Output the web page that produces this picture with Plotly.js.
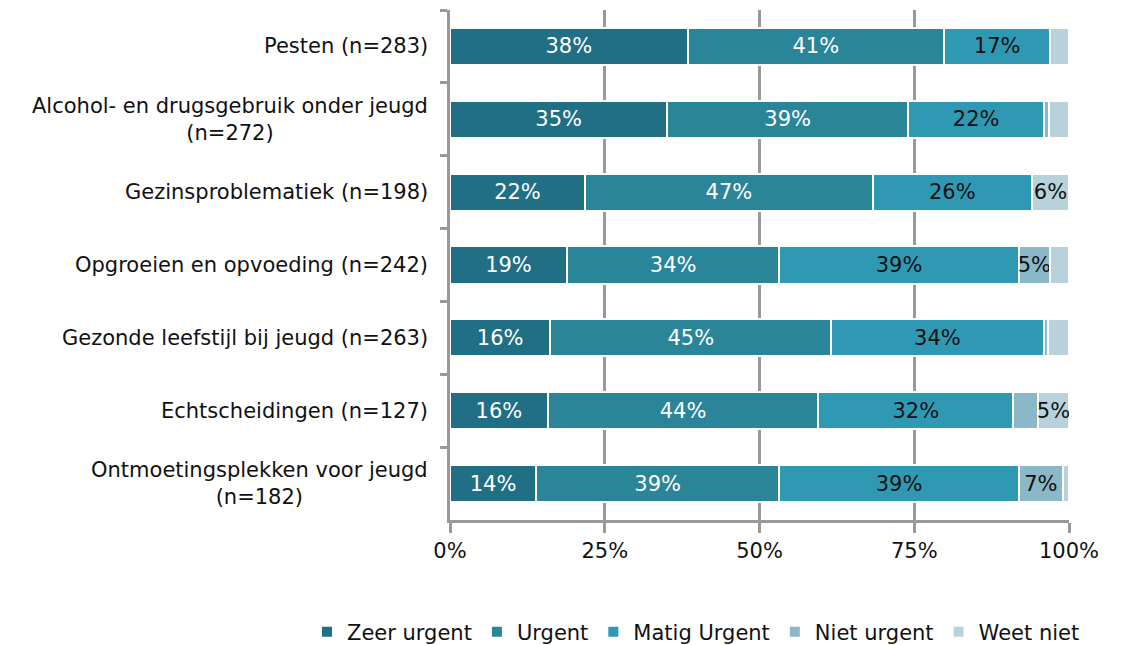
<!DOCTYPE html>
<html>
<head>
<meta charset="utf-8">
<script src="https://cdn.plot.ly/plotly-3.0.1.min.js"></script>
<style>html,body{margin:0;padding:0;background:#fff;}#chart{width:1126px;height:645px;}</style>
</head>
<body>
<div id="chart"></div>
<script>
var categories = [
  "Pesten (n=283)",
  "Alcohol- en drugsgebruik onder jeugd<br>(n=272)",
  "Gezinsproblematiek (n=198)",
  "Opgroeien en opvoeding (n=242)",
  "Gezonde leefstijl bij jeugd (n=263)",
  "Echtscheidingen (n=127)",
  "Ontmoetingsplekken voor jeugd<br>(n=182)"
];
var seriesNames = ["Zeer urgent", "Urgent", "Matig Urgent", "Niet urgent", "Weet niet"];
var zeerUrgent  = [38.4, 35.1, 21.8, 18.9, 16.2, 15.8, 13.9];
var urgent      = [41.4, 38.9, 46.5, 34.3, 45.4, 43.7, 39.3];
var matigUrgent = [17.2, 22.0, 25.7, 38.7, 34.3, 31.5, 38.7];
var nietUrgent  = [0.0, 0.8, 0.0, 5.0, 0.7, 4.0, 7.1];
var weetNiet    = [3.0, 3.2, 6.0, 3.1, 3.4, 5.0, 1.0];
var xTickVals   = [0, 25, 50, 75, 100];
var xTickText   = ["0%", "25%", "50%", "75%", "100%"];

var seriesValues = [zeerUrgent, urgent, matigUrgent, nietUrgent, weetNiet];
var colors = ["#216f84", "#2a8599", "#2f99b4", "#8bb8c8", "#b8d1db"];
var textColors = ["#ffffff", "#ffffff", "#111111", "#111111", "#111111"];
var FONT = "DejaVu Sans, Verdana, sans-serif";
var FS = 21;

var traces = seriesValues.map(function (vals, i) {
  return {
    type: "bar",
    orientation: "h",
    name: seriesNames[i],
    y: categories,
    x: vals,
    text: vals.map(function (v) { return v >= 4.5 ? Math.round(v) + "%" : ""; }),
    textposition: "inside",
    insidetextanchor: "middle",
    textangle: 0,
    constraintext: "none",
    insidetextfont: { family: FONT, size: FS, color: textColors[i] },
    marker: { color: colors[i], line: { color: "#ffffff", width: 2 } },
    hoverinfo: "name+x"
  };
});

var annotations = categories.map(function (c) {
  return {
    xref: "paper", yref: "y", x: 0, y: c,
    xshift: -20, xanchor: "right", yanchor: "middle",
    align: "center", showarrow: false,
    text: c,
    font: { family: FONT, size: FS, color: "#111111" }
  };
});

var layout = {
  width: 1126, height: 645,
  margin: { l: 450, r: 57, t: 10, b: 125, autoexpand: false },
  paper_bgcolor: "#ffffff", plot_bgcolor: "#ffffff",
  barmode: "stack",
  bargap: 0.49,
  uniformtext: { minsize: FS, mode: "show" },
  font: { family: FONT, size: FS, color: "#111111" },
  xaxis: {
    range: [0, 100],
    tickvals: xTickVals, ticktext: xTickText,
    showgrid: true, gridcolor: "#999999", gridwidth: 3,
    showline: true, linecolor: "#999999", linewidth: 3,
    ticks: "outside", ticklen: 10, tickwidth: 3, tickcolor: "#999999",
    zeroline: false,
    tickfont: { family: FONT, size: FS, color: "#111111" },
    fixedrange: true
  },
  yaxis: {
    autorange: "reversed",
    showticklabels: false,
    showline: true, linecolor: "#999999", linewidth: 3,
    ticks: "outside", tickson: "boundaries", ticklen: 7, tickwidth: 3, tickcolor: "#999999",
    showgrid: false, zeroline: false,
    fixedrange: true
  },
  showlegend: true,
  legend: {
    orientation: "h",
    x: -0.231, xanchor: "left",
    y: -0.22, yanchor: "middle",
    traceorder: "normal",
    font: { family: FONT, size: FS, color: "#111111" },
    itemwidth: 30
  },
  annotations: annotations
};

Plotly.newPlot("chart", traces, layout, { displayModeBar: false, staticPlot: true });
</script>
</body>
</html>
